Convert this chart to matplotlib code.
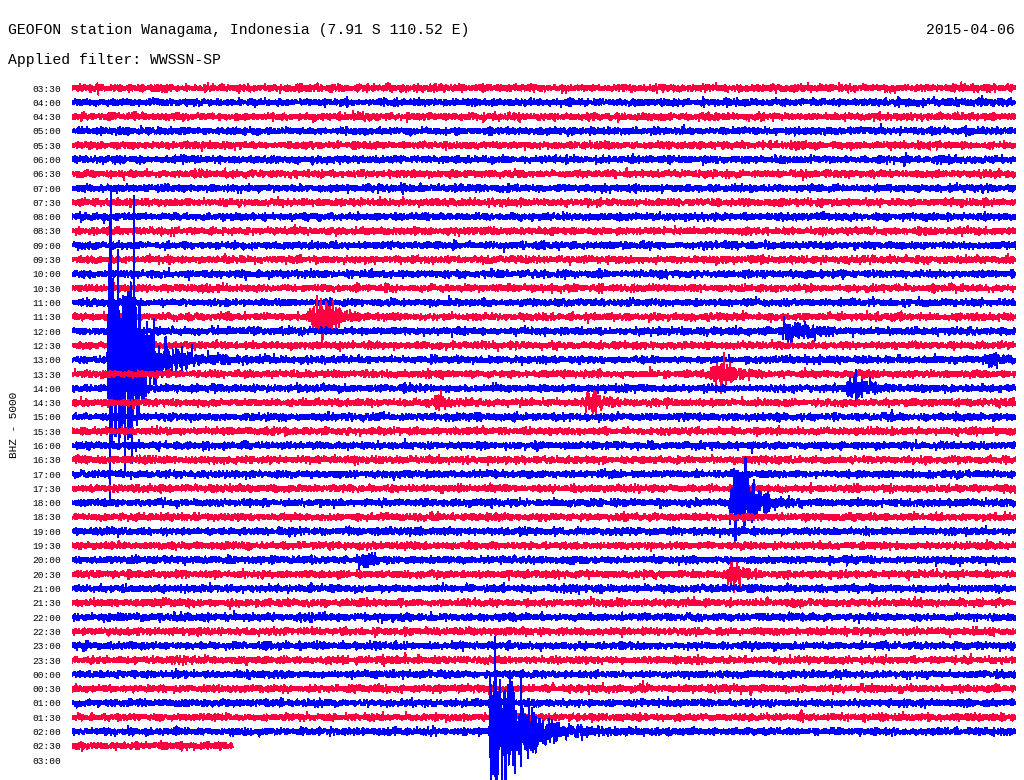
"""Helicorder plot of a GEOFON station day (WWSSN-SP filtered)."""
import matplotlib
matplotlib.use("Agg")
import matplotlib.pyplot as plt
import numpy as np

W, H = 1024, 780
ROW_PX = 14.3          # vertical spacing of traces
TOP_ROW_PX = 88        # centre of first trace
LEFT_PX, RIGHT_PX = 72, 1016

TITLE = "GEOFON station Wanagama, Indonesia (7.91 S 110.52 E)"
DATE = "2015-04-06"
FILTER = "Applied filter: WWSSN-SP"
CHANNEL = "BHZ - 5000"

row_labels = [
    "03:30", "04:00", "04:30", "05:00", "05:30", "06:00", "06:30", "07:00",
    "07:30", "08:00", "08:30", "09:00", "09:30", "10:00", "10:30", "11:00",
    "11:30", "12:00", "12:30", "13:00", "13:30", "14:00", "14:30", "15:00",
    "15:30", "16:00", "16:30", "17:00", "17:30", "18:00", "18:30", "19:00",
    "19:30", "20:00", "20:30", "21:00", "21:30", "22:00", "22:30", "23:00",
    "23:30", "00:00", "00:30", "01:00", "01:30", "02:00", "02:30", "03:00",
]
# minutes of data recorded in each 30-minute row
row_minutes = [30.0] * 46 + [5.1, 0.0]
noise_px = 1.5  # background noise level (pixels, 1 sigma)

# events: row, onset (min into row), amplitude (px scale), rise, hold,
# decay, coda amplitude (px) and coda decay (min)
event_rows = ["13:00", "02:00", "18:00", "11:30", "12:00", "13:30",
              "14:00", "14:30", "14:30", "20:00", "20:30", "13:00"]
event_onset = [1.12, 13.25, 20.88, 7.5, 22.55, 20.25,
               24.55, 16.25, 11.45, 9.05, 20.7, 28.95]
event_amp = [27.0, 19.0, 8.5, 6.0, 5.5, 5.0, 4.0, 4.0, 2.5, 2.5, 4.0, 3.0]
event_rise = [0.02, 0.02, 0.02, 0.35, 0.3, 0.3, 0.3, 0.25, 0.2, 0.2, 0.25, 0.2]
event_hold = [0.9, 0.55, 0.6, 0.0, 0.0, 0.0, 0.0, 0.0, 0.0, 0.0, 0.0, 0.0]
event_decay = [0.35, 0.45, 0.4, 0.6, 0.5, 0.5, 0.5, 0.4, 0.35, 0.35, 0.4, 0.35]
event_coda = [9.0, 8.0, 4.0, 0.0, 0.0, 0.0, 0.0, 0.0, 0.0, 0.0, 0.0, 0.0]
event_coda_decay = [2.0, 1.8, 1.3, 1.0, 1.0, 1.0, 1.0, 1.0, 1.0, 1.0, 1.0, 1.0]

colors = ["#ff0040", "#0000ff"]
SAMPLES = 6000

# fixed texture for the seismic background
rng = np.random.default_rng(20150406)


def smooth(x, n):
    k = np.ones(n) / n
    return np.convolve(x, k, mode="same")


def trace(row):
    label = row_labels[row]
    n = int(SAMPLES * row_minutes[row] / 30)
    t = np.linspace(0, row_minutes[row], n)
    env = 0.6 + 2.6 * smooth(rng.random(n), 30) ** 3
    y = rng.standard_normal(n) * noise_px * env
    for i, r in enumerate(event_rows):
        if r != label:
            continue
        dt = np.clip(t - event_onset[i], 0, None)
        on = t >= event_onset[i]
        tail = np.clip(dt - event_hold[i], 0, None)
        shape = (1 - np.exp(-dt / event_rise[i])) * np.exp(-tail / event_decay[i])
        e = event_amp[i] * shape / shape.max()
        e += event_coda[i] * (1 - np.exp(-dt / 0.05)) \
            * np.exp(-dt / event_coda_decay[i])
        wiggle = np.clip(rng.standard_t(6, n), -5, 5)
        y += np.where(on, e, 0) * wiggle
    return t, y / ROW_PX


fig = plt.figure(figsize=(W / 100, H / 100), dpi=100)
ax = fig.add_axes([LEFT_PX / W, 0, (RIGHT_PX - LEFT_PX) / W, 1])
ax.set_xlim(0, 30)
ax.set_ylim((H - TOP_ROW_PX) / ROW_PX, -TOP_ROW_PX / ROW_PX)

for row in range(len(row_labels)):
    if row_minutes[row] <= 0:
        continue
    t, y = trace(row)
    ax.plot(t, row + y, color=colors[row % 2], linewidth=0.75,
            antialiased=False)

ax.set_yticks(range(len(row_labels)), row_labels,
              family="Liberation Mono", fontsize=6.8)
ax.tick_params(axis="y", length=0, pad=8)
ax.set_xticks([])
for s in ax.spines.values():
    s.set_visible(False)

fig.text(8 / W, 1 - 30 / H, TITLE, family="Liberation Mono", fontsize=10.6,
         va="center", ha="left")
fig.text(1015 / W, 1 - 30 / H, DATE, family="Liberation Mono", fontsize=10.6,
         va="center", ha="right")
fig.text(8 / W, 1 - 60 / H, FILTER, family="Liberation Mono", fontsize=10.6,
         va="center", ha="left")
fig.text(14 / W, 1 - 425 / H, CHANNEL, family="Liberation Mono", fontsize=8,
         va="center", ha="center", rotation=90)

fig.savefig("out.png", dpi=100, facecolor="white")
